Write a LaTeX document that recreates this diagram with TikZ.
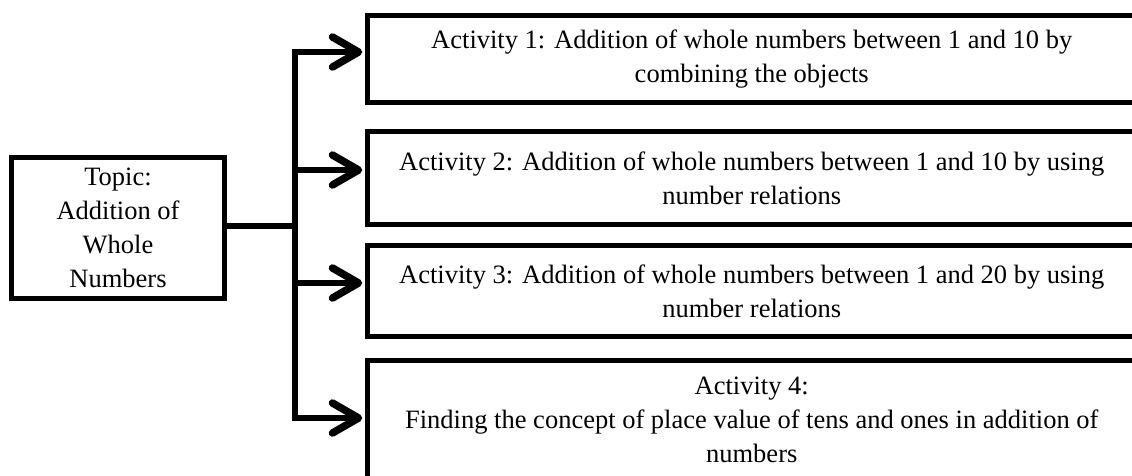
\documentclass[tikz,border=0pt]{standalone}
\usepackage{fontspec}
\setmainfont{Liberation Serif}
\begin{document}
\begin{tikzpicture}[x=1pt,y=1pt,
  box/.style={draw=black, line width=5pt, rectangle, inner sep=0pt, align=center,
    font=\fontsize{26.5}{34}\selectfont},
  actbox/.style={box, minimum width=769.5pt, anchor=west},
  conn/.style={line width=6.5pt, line join=miter},
  chev/.style={line width=7.5pt, line cap=round, line join=round}
]
\useasboundingbox (0,0) rectangle (1132,-475);
\fill[white] (0,0) rectangle (1132,-475);

\node[box, minimum width=213pt, minimum height=141pt] (topic) at (118,-227.5)
  {Topic:\\Addition of\\Whole\\Numbers};

\node[actbox, minimum height=87pt] (b1) at (364.5,-59)
  {Activity 1: Addition of whole numbers between 1 and 10 by\\combining the objects};
\node[actbox, minimum height=93pt] (b2) at (364.5,-178)
  {Activity 2: Addition of whole numbers between 1 and 10 by using\\number relations};
\node[actbox, minimum height=91pt] (b3) at (364.5,-291)
  {Activity 3: Addition of whole numbers between 1 and 20 by using\\number relations};
\node[actbox, minimum height=119pt] (b4) at (364.5,-419.5)
  {Activity 4:\\Finding the concept of place value of tens and ones in addition of\\numbers};

\coordinate (j1) at (295,-52);
\coordinate (j2) at (295,-170);
\coordinate (j3) at (295,-283);
\coordinate (j4) at (295,-418);

\draw[conn] (topic.east |- 0,-226) -- (j1 |- 0,-226);
\draw[conn] ([yshift=3.25pt]j1) -- ([yshift=-3.25pt]j4);
\foreach \i in {1,2,3,4}{
  \draw[conn] (j\i) -- ([xshift=-6pt]j\i -| b\i.west);
  \draw[chev] ([xshift=-32pt,yshift=15pt]j\i -| b\i.west)
    -- ([xshift=-6pt]j\i -| b\i.west)
    -- ([xshift=-32pt,yshift=-15pt]j\i -| b\i.west);
}
\end{tikzpicture}
\end{document}
